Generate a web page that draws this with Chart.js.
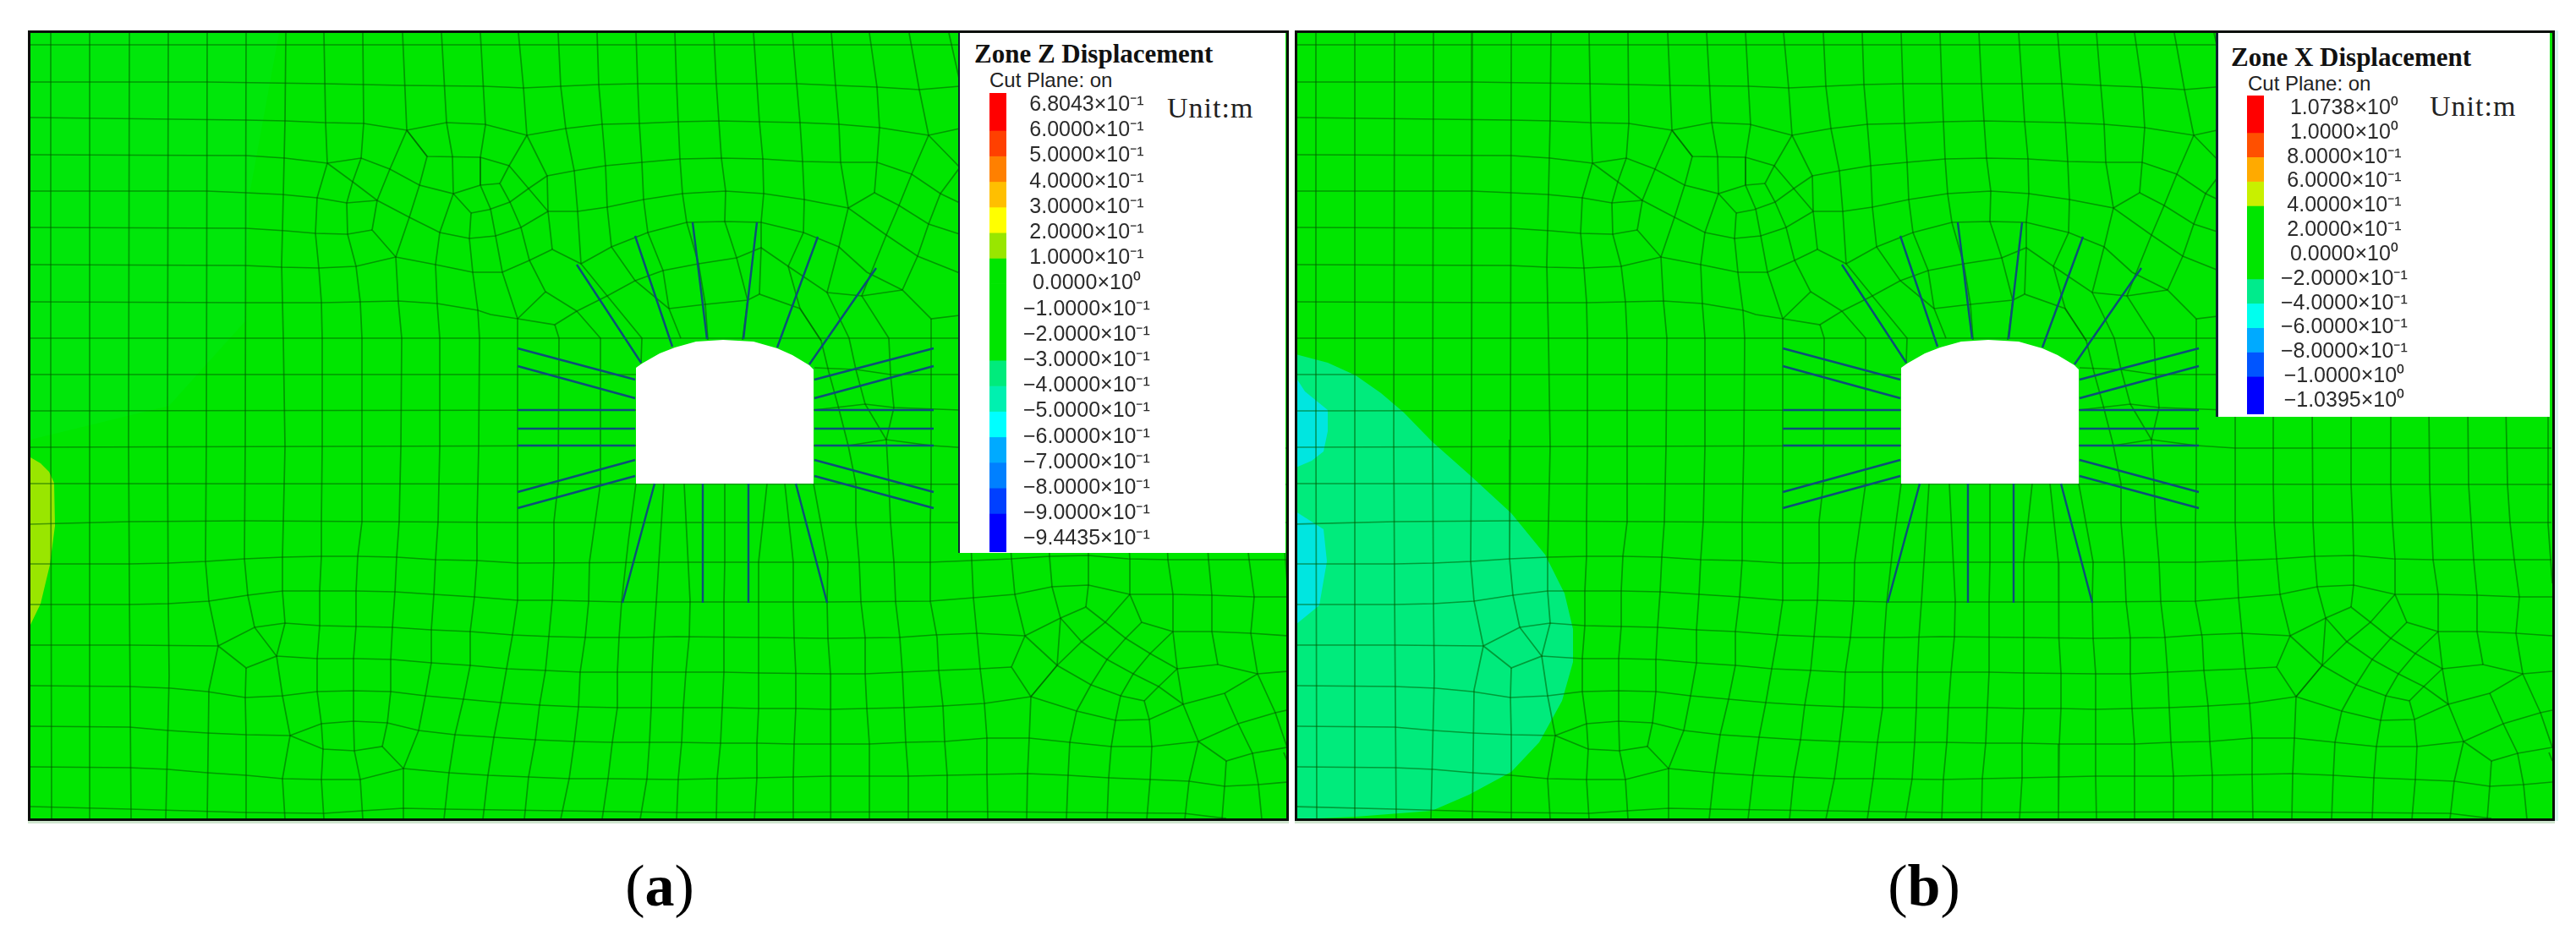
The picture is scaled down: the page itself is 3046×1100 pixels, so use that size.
<!DOCTYPE html>
<html>
<head>
<meta charset="utf-8">
<title>Zone displacement contours</title>
<script src="https://cdn.jsdelivr.net/npm/chart.js@4/dist/chart.umd.min.js"></script>
<style>
  html, body { margin: 0; background: #fff; }
  body { position: relative; width: 3046px; height: 1100px; overflow: hidden; }
  .frame { position: absolute; top: 36px; height: 929px; border: 3px solid #0a0f0a; box-shadow: 0 3px 0 #cfe6cf; }
  #frameA { left: 33px; width: 1485px; }
  #frameB { left: 1531px; width: 1484px; box-shadow: 0 3px 0 #cfe6cf, 4px 0 0 #dcf4f0; }
  .frame canvas { display: block; }
  .legendBox { position: absolute; top: 39px; background: #fff; }
  #legendBoxA { left: 1133px; width: 387px; height: 615px; border-left: 2px solid #123; box-sizing: border-box; }
  #legendBoxB { left: 2620px; width: 395px; height: 454px; border-left: 3px solid #123; box-sizing: border-box; }
  .legendBar { position: absolute; }
  #barA { left: 1170px; top: 110px; }
  #barB { left: 2657px; top: 113px; }
  .txt { position: absolute; white-space: nowrap; line-height: 1; }
  .head { font: bold 31px "Liberation Serif", serif; color: #111; }
  .cut { font: 24px "Liberation Sans", sans-serif; color: #222; }
  .unit { font: 34px "Liberation Serif", serif; color: #222; letter-spacing: 1px; }
  .caption { font: 70px "Liberation Serif", serif; color: #000; transform: translateX(-50%); }
</style>
</head>
<body>
<div class="frame" id="frameA"><canvas id="plotA" width="1485" height="929"></canvas></div>
<div class="frame" id="frameB"><canvas id="plotB" width="1484" height="929"></canvas></div>
<div class="legendBox" id="legendBoxA"></div>
<div class="legendBox" id="legendBoxB"></div>
<canvas class="legendBar" id="barA" width="200" height="543"></canvas>
<canvas class="legendBar" id="barB" width="200" height="377"></canvas>

<div class="txt head" style="left:1152px;top:46px">Zone Z Displacement</div>
<div class="txt cut" style="left:1170px;top:81px">Cut Plane: on</div>
<div class="txt unit" style="left:1380px;top:109px">Unit:m</div>
<div class="txt head" style="left:2638px;top:50px">Zone X Displacement</div>
<div class="txt cut" style="left:2658px;top:85px">Cut Plane: on</div>
<div class="txt unit" style="left:2873px;top:107px">Unit:m</div>
<div class="txt caption" style="left:780px;top:1008px">(<b>a</b>)</div>
<div class="txt caption" style="left:2275px;top:1008px">(<b>b</b>)</div>

<script>
// legend levels, top to bottom
const zLabels = ['6.8043×10⁻¹', '6.0000×10⁻¹', '5.0000×10⁻¹', '4.0000×10⁻¹', '3.0000×10⁻¹', '2.0000×10⁻¹', '1.0000×10⁻¹', '0.0000×10⁰',
  '−1.0000×10⁻¹', '−2.0000×10⁻¹', '−3.0000×10⁻¹', '−4.0000×10⁻¹', '−5.0000×10⁻¹', '−6.0000×10⁻¹', '−7.0000×10⁻¹', '−8.0000×10⁻¹', '−9.0000×10⁻¹', '−9.4435×10⁻¹'];
const zBandColors = ['#ff0000', '#ff4000', '#ff8000', '#ffbf00', '#ffff00', '#99e600', '#00e600', '#00e600', '#00e600', '#00e600',
  '#00eb7c', '#00f0b0', '#00ffff', '#00aaff', '#0080ff', '#0040ff', '#0000ff'];
const xLabels = ['1.0738×10⁰', '1.0000×10⁰', '8.0000×10⁻¹', '6.0000×10⁻¹', '4.0000×10⁻¹', '2.0000×10⁻¹', '0.0000×10⁰',
  '−2.0000×10⁻¹', '−4.0000×10⁻¹', '−6.0000×10⁻¹', '−8.0000×10⁻¹', '−1.0000×10⁰', '−1.0395×10⁰'];
const xBandColors = ['#ff0000', '#ff5000', '#ffaa00', '#c8f000', '#00e600', '#00e600', '#00e600',
  '#00eb8c', '#00ffee', '#00aaff', '#0055ff', '#0000ff'];

// mesh, same model coordinates for both plots
const meshRows = [
  [[36,53],[1135,53]],
  [[36,97],[245,97],[383,99],[476,101],[572,102],[619,104],[663,102],[708,100],[754,99],[847,99],[942,99],[988,101],[1037,103],[1087,106],[1135,102]],
  [[36,139],[291,142],[338,143],[383,145],[430,146],[481,154],[528,145],[573,147],[623,160],[669,152],[712,147],[756,146],[802,144],[850,143],[898,144],[946,145],[992,147],[1040,151],[1098,160],[1135,152]],
  [[36,183],[291,184],[337,187],[387,193],[427,187],[461,200],[496,219],[536,229],[568,219],[591,217]],
  [[481,154],[505,185],[568,186],[602,196],[625,223],[648,250],[683,250],[718,245],[761,236],[807,229],[858,226],[903,229],[951,236],[1003,246],[1048,278],[1085,303],[1135,323]],
  [[647,208],[679,202],[716,196],[759,192],[804,188],[853,187],[902,188],[949,191],[994,192],[1037,192],[1078,206],[1112,229],[1135,240]],
  [[1003,246],[1034,228],[1063,243],[1098,265],[1135,277]],
  [[36,226],[245,226],[291,228],[333,230],[375,234],[410,240],[446,237]],
  [[36,269],[291,270],[338,273],[373,276],[411,277],[440,272]],
  [[36,313],[289,314],[333,316],[377,317],[421,315],[468,304],[515,313],[559,322],[594,322],[626,308],[653,295],[687,312],[723,292],[766,275],[812,263],[857,262],[900,263],[950,275],[992,292],[1025,322],[1067,343],[1101,377],[1135,373]],
  [[36,357],[291,358],[381,358],[471,356],[517,359],[565,367],[580,372],[612,377],[656,384],[682,368]],
  [[645,345],[682,368],[718,350],[751,332],[784,320],[826,312],[871,305],[900,293],[932,315],[978,346],[1019,350],[1067,343]],
  [[791,365],[834,360],[884,355],[898,348],[946,365],[971,403]],
  [[36,400],[1135,400]],
  [[36,443],[752,443]],
  [[963,435],[1012,437],[1053,443],[1135,443]],
  [[36,486],[752,485]],
  [[962,485],[1023,478],[1057,482],[1135,485]],
  [[36,529],[752,527]],
  [[962,527],[1003,527],[1048,520],[1101,527],[1147,530],[1521,530]],
  [[36,572],[1521,573]],
  [[36,620],[153,617],[289,616],[612,618],[1521,618]],
  [[36,667],[153,667],[199,666],[244,664],[289,661],[334,659],[380,658],[423,658],[469,659],[515,662],[564,663],[612,666],[800,665],[1100,665],[1149,663],[1196,661],[1241,658],[1287,657],[1334,661],[1381,662],[1521,662]],
  [[36,715],[153,715],[199,714],[247,711],[293,704],[334,699],[378,699],[421,699],[467,700],[513,703],[561,706],[612,710],[653,710],[735,712],[800,712],[880,712],[979,712],[1100,711],[1151,707],[1200,703],[1244,694],[1287,692],[1336,703],[1387,703],[1433,704],[1483,706],[1522,706]],
  [[36,763],[153,763],[258,764]],
  [[301,742],[337,737],[378,740],[421,741],[464,742],[510,745],[556,747],[606,751],[653,753],[699,754],[750,754],[800,753],[897,754],[979,755],[1062,754],[1105,751],[1155,749],[1212,752]],
  [[327,776],[375,779],[421,779],[464,780],[510,784],[556,787],[599,791],[645,793],[686,795],[732,795],[800,795],[856,795],[897,796],[982,797],[1023,797],[1067,795],[1110,793],[1159,791],[1196,789]],
  [[36,811],[153,812],[202,814],[245,818],[290,825],[334,823],[375,818],[418,817],[462,818],[503,823],[548,827],[592,831],[638,834],[684,836],[730,837],[800,837],[856,837],[897,838],[941,838],[982,839],[1025,838],[1069,837],[1115,835],[1164,832],[1219,824]],
  [[36,859],[153,860],[199,864],[245,867],[291,869],[343,870],[380,856],[418,853],[458,855],[495,864],[538,869],[584,872],[633,875],[679,877],[724,878],[800,878],[853,879],[897,879],[938,880],[982,880],[1028,880],[1071,878],[1117,877],[1167,873],[1217,873],[1265,878],[1314,883],[1362,883],[1417,877]],
  [[343,870],[382,886],[419,888],[452,883],[477,909]],
  [[36,907],[153,908],[199,910],[245,914],[291,917],[334,921],[380,922],[426,922],[477,909],[531,914],[577,917],[625,919],[673,921],[719,921],[800,922],[848,921],[895,920],[938,919],[982,918],[1028,918],[1074,918],[1120,917],[1167,916],[1215,915],[1263,917],[1311,920],[1360,922],[1406,924],[1448,930],[1488,928],[1522,925]],
  [[36,954],[153,957],[291,961],[383,962],[428,959],[477,956],[525,957],[800,961],[1157,960],[1400,962],[1450,968]]
];
const meshColumns = [
  [[60,39],[60,500],[61,969]],
  [[106,39],[106,969]],
  [[153,39],[152,520],[153,700],[155,969]],
  [[199,39],[198,520],[199,714],[200,800],[196,969]],
  [[245,39],[244,520],[243,664],[247,711],[258,764],[247,816],[245,969]],
  [[291,39],[290,520],[289,661],[293,704],[301,742]],
  [[291,790],[290,825],[291,869],[291,969]],
  [[338,39],[337,143],[335,230],[333,313],[335,400],[337,529],[335,617],[334,659],[334,699],[337,737],[327,776],[334,823],[343,870],[334,921],[337,969]],
  [[383,39],[385,145],[387,193],[375,234],[373,276],[377,317],[380,357],[381,400],[381,529],[380,617],[380,658],[378,699],[378,740],[375,779],[375,818],[380,856],[382,886],[380,922],[383,969]],
  [[429,39],[430,146],[427,187],[417,215],[410,240],[411,277],[421,315],[426,357],[428,400],[428,529],[428,617],[423,658],[421,699],[421,741],[418,779],[418,817],[418,853],[419,888],[426,922],[429,969]],
  [[476,39],[481,154],[461,200],[446,237],[440,272],[468,304],[471,357],[475,400],[474,529],[472,617],[469,659],[467,700],[464,742],[462,780],[462,818],[458,855],[452,883]],
  [[477,909],[477,969]],
  [[522,39],[528,145],[535,185],[536,229],[520,275],[515,313],[517,360],[520,400],[520,529],[518,617],[515,662],[513,703],[510,745],[510,784],[503,823],[495,864],[477,909]],
  [[536,229],[557,252],[555,282],[559,322],[565,367],[567,400],[566,529],[564,617],[564,663],[561,706],[556,747],[556,787],[548,827],[538,869],[531,914],[525,969]],
  [[568,39],[574,148],[568,186],[568,219],[580,247],[586,279],[594,322],[612,377],[612,529],[612,666],[612,710],[606,751],[599,791],[592,831],[584,872],[577,917],[571,969]],
  [[613,39],[619,104],[623,160],[602,196],[591,217],[603,239],[616,269],[626,308],[645,345],[612,377]],
  [[623,160],[647,208],[648,250],[653,295]],
  [[660,39],[663,102],[669,152],[679,202],[683,250],[687,312],[718,350],[759,400],[758,430]],
  [[706,39],[708,100],[712,147],[716,196],[718,245],[723,292],[751,332],[791,365],[805,400]],
  [[752,39],[754,99],[756,146],[759,192],[761,236],[766,275],[784,320],[791,365]],
  [[798,39],[800,99],[802,144],[804,188],[807,229],[812,263],[826,312],[834,360],[837,402]],
  [[844,39],[847,99],[850,143],[853,187],[858,226],[857,262],[871,305],[884,355],[878,402]],
  [[891,39],[895,99],[898,144],[902,188],[903,229],[900,263],[900,293],[898,348]],
  [[937,39],[942,99],[946,145],[949,191],[951,236],[950,275],[932,315],[946,365]],
  [[983,39],[988,101],[992,147],[994,192],[1003,246],[992,292],[978,346],[1004,400],[1012,437],[1023,478],[1048,520]],
  [[1028,39],[1037,103],[1040,151],[1037,192],[1034,228]],
  [[1075,39],[1087,106],[1098,160],[1078,206],[1063,243],[1048,278],[1019,350],[1051,400],[1053,443],[1057,482],[1048,520],[1051,572],[1053,618],[1057,665],[1059,712],[1064,754],[1067,795],[1069,837],[1071,878],[1074,918],[1074,969]],
  [[1122,39],[1135,97]],
  [[1098,160],[1135,198],[1112,229],[1098,265],[1085,303],[1067,343]],
  [[1101,377],[1101,572],[1100,618],[1100,665],[1100,711],[1108,754],[1110,793],[1115,835],[1117,877],[1120,917],[1120,969]],
  [[946,365],[971,403],[980,440],[991,480],[1003,527],[1012,572],[1012,618],[1016,665],[1018,712],[1023,754],[1023,797],[1025,838],[1028,880],[1028,918],[1028,969]],
  [[656,384],[661,400],[660,572],[655,617],[655,666],[653,710],[649,753],[645,793],[638,834],[633,875],[625,919],[620,969]],
  [[682,368],[710,400],[710,572],[697,665],[696,712],[692,754],[686,795],[684,837],[679,878],[673,921],[663,969]],
  [[752,572],[743,640],[735,712],[732,754],[730,795],[730,837],[724,878],[719,921],[712,969]],
  [[785,572],[776,712],[773,754],[771,795],[770,837],[768,878],[765,921],[757,969]],
  [[809,572],[816,711],[815,753],[811,795],[808,837],[806,878],[802,921],[800,969]],
  [[857,572],[857,665],[856,712],[856,753],[856,795],[854,837],[852,879],[848,921],[847,969]],
  [[907,572],[897,665],[897,712],[897,754],[897,796],[897,838],[895,879],[895,920],[892,969]],
  [[928,572],[938,665],[938,712],[939,754],[941,796],[941,838],[939,880],[938,919],[938,969]],
  [[962,572],[979,665],[978,712],[979,755],[982,797],[982,839],[982,880],[982,918],[983,969]],
  [[1147,480],[1147,618],[1149,663],[1151,707],[1155,749],[1159,791],[1164,832],[1167,873],[1167,916],[1168,969]],
  [[1192,480],[1192,573],[1193,618],[1196,661],[1200,703],[1212,752],[1196,789],[1219,824],[1217,873],[1215,915],[1214,969]],
  [[1238,480],[1239,618],[1241,658],[1244,694],[1254,731],[1250,787],[1219,824]],
  [[1284,480],[1284,573],[1286,618],[1287,657],[1287,692],[1284,718]],
  [[1331,480],[1331,573],[1333,618],[1336,661],[1336,703],[1350,736],[1387,747]],
  [[1376,480],[1377,573],[1379,618],[1381,662],[1387,703],[1387,747],[1392,791],[1399,833],[1417,877],[1406,924],[1401,969]],
  [[1422,480],[1423,573],[1426,618],[1429,662],[1433,704],[1433,747],[1440,786]],
  [[1467,480],[1469,573],[1472,618],[1477,662],[1483,706],[1479,749],[1487,797],[1508,843],[1522,884]],
  [[1517,480],[1517,620],[1522,690]]
];
// irregular cells the rows and columns do not cover
const meshPatchEdges = [
  [[481,154],[505,185],[496,219],[484,257],[468,304]],
  [[387,193],[417,215],[446,237],[484,257],[520,275],[555,282],[586,279],[616,269],[648,250]],
  [[258,764],[301,742],[327,776],[291,790],[258,764]],
  [[568,186],[568,219]],
  [[557,252],[578,248],[603,239],[625,223],[647,208]],
  [[1212,752],[1254,731],[1284,718],[1307,736],[1331,755],[1360,773],[1392,791]],
  [[1212,752],[1250,787],[1290,810],[1325,823],[1353,829],[1359,851]],
  [[1254,731],[1279,759],[1309,780],[1340,797],[1370,812],[1399,833]],
  [[1336,703],[1307,736],[1279,759],[1250,787],[1219,824]],
  [[1350,736],[1331,755],[1309,780],[1290,810],[1273,841]],
  [[1387,747],[1360,773],[1340,797],[1325,823],[1319,852]],
  [[1392,791],[1370,812],[1353,829]],
  [[1219,824],[1273,841],[1319,852],[1359,851],[1399,833],[1448,820],[1487,797],[1522,794]],
  [[1273,841],[1265,878],[1263,917],[1261,969]],
  [[1319,852],[1314,883],[1311,920],[1309,969]],
  [[1359,851],[1362,883],[1360,922],[1356,969]],
  [[1392,791],[1440,786],[1487,797]],
  [[1387,747],[1433,747],[1479,749],[1522,752]],
  [[1417,877],[1464,856],[1508,843],[1522,840]],
  [[1448,820],[1464,856],[1481,891],[1488,928],[1492,969]],
  [[1417,877],[1450,900],[1481,891],[1522,884]],
  [[1450,900],[1448,930],[1445,969]],
  [[1518,890],[1522,900]]
];

// excavation outline and cable bolts
const tunnelOutline = [[752,435],[759,430],[780,418],[798,411],[823,404],[855,402],[891,404],[919,412],[937,420],[957,432],[962,437],[962,572],[752,572]];
const bolts = [
  [[758,429],[682,313]], [[795,410],[751,279]], [[836,401],[819,263]], [[879,401],[895,263]], [[919,411],[967,280]], [[957,431],[1036,317]],
  [[751,449],[612,412]], [[751,471],[612,433]], [[751,485],[612,485]], [[751,507],[612,507]], [[751,527],[612,527]], [[751,544],[612,582]], [[751,563],[612,601]],
  [[963,449],[1104,412]], [[963,471],[1104,433]], [[963,485],[1104,485]], [[963,507],[1104,507]], [[963,527],[1104,527]], [[963,544],[1104,582]], [[963,563],[1104,601]],
  [[774,572],[736,713]], [[831,572],[831,713]], [[885,572],[885,713]], [[941,572],[978,713]]
];

// contour bands
const zPositiveZone = [[36,541],[48,548],[58,558],[64,571],[65,622],[59,668],[48,714],[36,739]];
const zFaintZone = [[36,39],[330,39],[295,230],[290,380],[200,480],[36,520]];
const xLowZone = [[36,419],[74,429],[107,444],[137,465],[164,488],[197,522],[241,561],[291,607],[331,656],[354,702],[364,744],[364,783],[351,829],[324,878],[291,913],[241,940],[197,959],[107,966],[36,969]];
const xCyanUpper = [[36,446],[47,463],[74,485],[74,510],[69,534],[55,545],[36,553]];
const xCyanLower = [[36,605],[69,626],[73,664],[64,716],[36,739]];

const GREEN = '#00e600';

function toPoints(line) {
  return line.map(p => ({ x: p[0], y: p[1] }));
}

function zoneDataset(outline, color) {
  return { data: toPoints(outline), showLine: true, fill: 'shape', backgroundColor: color, borderWidth: 0, pointRadius: 0 };
}

function lineDataset(line, color, width) {
  return { data: toPoints(line), showLine: true, fill: false, borderColor: color, borderWidth: width, pointRadius: 0 };
}

function drawPlot(canvasId, zones, xMin, xMax) {
  const meshLines = meshRows.concat(meshColumns, meshPatchEdges).map(l => lineDataset(l, 'rgba(0,90,0,0.55)', 1.7));
  const boltLines = bolts.map(l => lineDataset(l, '#0c4f78', 2.4));
  const datasets = zones.concat(meshLines, [zoneDataset(tunnelOutline, '#ffffff')], boltLines);
  // later entries go on top
  datasets.forEach((d, i) => { d.order = datasets.length - i; });
  new Chart(document.getElementById(canvasId), {
    type: 'scatter',
    data: { datasets: datasets },
    options: {
      responsive: false,
      animation: false,
      layout: { padding: 0 },
      plugins: { legend: { display: false }, tooltip: { enabled: false } },
      scales: {
        x: { type: 'linear', display: false, min: xMin, max: xMax },
        y: { type: 'linear', display: false, reverse: true, min: 39, max: 968 }
      }
    },
    plugins: [{
      id: 'groundFill',
      beforeDraw(chart) {
        chart.ctx.fillStyle = GREEN;
        chart.ctx.fillRect(0, 0, chart.width, chart.height);
      }
    }]
  });
}

function drawBar(canvasId, labels, colors, overTop, overBottom, tickPadding) {
  const yMin = -overTop;
  const yMax = labels.length - 1 + overBottom;
  const datasets = colors.map((c, i) => ({
    data: [[i === 0 ? yMin : i, i === colors.length - 1 ? yMax : i + 1]],
    backgroundColor: c,
    grouped: false,
    barPercentage: 1,
    categoryPercentage: 1
  }));
  new Chart(document.getElementById(canvasId), {
    type: 'bar',
    data: { labels: [''], datasets: datasets },
    options: {
      responsive: false,
      animation: false,
      layout: { padding: 0, autoPadding: false },
      plugins: { legend: { display: false }, tooltip: { enabled: false } },
      scales: {
        x: { display: false },
        y: {
          type: 'linear',
          position: 'right',
          reverse: true,
          min: yMin,
          max: yMax,
          grid: { display: false },
          border: { display: false },
          afterBuildTicks: scale => { scale.ticks = labels.map((_, i) => ({ value: i })); },
          // bar must span the whole canvas height, labels stay inside it
          afterFit: scale => { scale.width = 180; scale.paddingTop = 0; scale.paddingBottom = 0; },
          ticks: {
            autoSkip: false,
            crossAlign: 'center',
            padding: tickPadding,
            color: '#2b2b2b',
            font: { family: '"Liberation Sans", sans-serif', size: 25 },
            callback: v => labels[v]
          }
        }
      }
    }
  });
}

drawPlot('plotA', [zoneDataset(zFaintZone, '#00e70a'), zoneDataset(zPositiveZone, '#99e600')], 36, 1521);
drawPlot('plotB', [zoneDataset(xLowZone, '#00eb7c'), zoneDataset(xCyanUpper, '#00e6e0'), zoneDataset(xCyanLower, '#00e6e0')], 38, 1522);
drawBar('barA', zLabels, zBandColors, 0.47, 0.51, 12);
drawBar('barB', xLabels, xBandColors, 0.52, 0.55, 12);
</script>
</body>
</html>
